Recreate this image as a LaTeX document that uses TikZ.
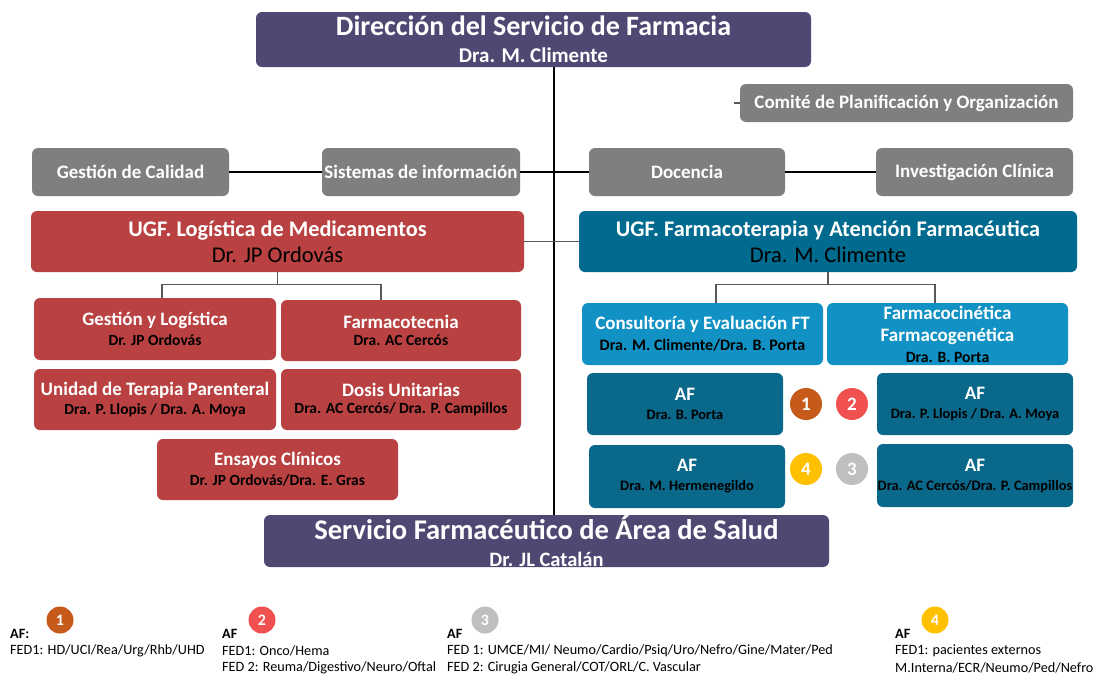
\documentclass[tikz,border=0pt]{standalone}
\usepackage{fontspec}
\setmainfont{Carlito}
\usetikzlibrary{calc}
\definecolor{purp}{RGB}{80,72,114}
\definecolor{grayb}{RGB}{127,127,127}
\definecolor{redb}{RGB}{185,65,65}
\definecolor{tealb}{RGB}{0,107,142}
\definecolor{lblue}{RGB}{18,146,196}
\definecolor{afb}{RGB}{10,104,138}
\definecolor{cone}{RGB}{197,90,26}
\definecolor{ctwo}{RGB}{240,80,80}
\definecolor{cthree}{RGB}{191,191,191}
\definecolor{cfour}{RGB}{255,192,0}
\definecolor{conn}{RGB}{89,89,89}
\newcommand\fsz[1]{\fontsize{#1}{#1}\selectfont}
\begin{document}
\begin{tikzpicture}[x=1pt,y=-1pt,
  box/.style={rounded corners=6pt, inner sep=0pt, align=center, text=white, font=\bfseries},
  purpbox/.style={box, fill=purp},
  graybox/.style={box, fill=grayb, font=\bfseries\fsz{19}},
  redbox/.style={box, fill=redb},
  tealbox/.style={box, fill=tealb},
  lbluebox/.style={box, fill=lblue},
  afbox/.style={box, fill=afb},
  num/.style={circle, inner sep=0pt, minimum size=32pt, text=white, font=\bfseries\fsz{19}},
  lnum/.style={circle, inner sep=0pt, minimum size=27pt, text=white, font=\bfseries\fsz{16}},
  spine/.style={draw=black, line width=2.8pt},
  thin/.style={draw=conn, line width=1.3pt},
  leg/.style={anchor=west, inner sep=0pt, font=\fsz{14.2}},
  legb/.style={anchor=west, inner sep=0pt, font=\bfseries\fsz{14.2}}
]
\useasboundingbox (0,0) rectangle (1101,678);
\fill[white] (0,0) rectangle (1101,678);

% top
\node[purpbox, minimum width=555pt, minimum height=55pt] (dir) at (533.5,39.5)
  {{\fsz{28}Dirección del Servicio de Farmacia}\\[11pt]{\fsz{21}Dra. M. Climente}};
\node[graybox, minimum width=333pt, minimum height=38pt] (com) at (906.5,103)
  {Comité de Planificación y Organización};
\node[graybox, minimum width=197pt, minimum height=48pt] (cal) at (130.5,172) {Gestión de Calidad};
\node[graybox, minimum width=198pt, minimum height=48pt] (sis) at (421,172) {Sistemas de información};
\node[graybox, minimum width=196pt, minimum height=48pt] (doc) at (687,172) {Docencia};
\node[graybox, minimum width=197pt, minimum height=48pt] (inv) at (974.5,172) {Investigación Clínica};

% UGF
\node[redbox, minimum width=493pt, minimum height=61pt] (ugfl) at (277.5,241.5)
  {{\fsz{22.3}UGF. Logística de Medicamentos}\\[6pt]{\fsz{22.5}\mdseries\color{black}Dr. JP Ordovás}};
\node[tealbox, minimum width=498pt, minimum height=61pt] (ugff) at (828,241.5)
  {{\fsz{22.3}UGF. Farmacoterapia y Atención Farmacéutica}\\[6pt]{\fsz{22.5}\mdseries\color{black}Dra. M. Climente}};

% left children
\node[redbox, minimum width=242pt, minimum height=62pt] (gl) at (155,329)
  {{\fsz{19}Gestión y Logística}\\[5pt]{\fsz{15.5}\color{black}Dr. JP Ordovás}};
\node[redbox, minimum width=240pt, minimum height=61pt] (ft) at (401,330.5)
  {{\fsz{19}Farmacotecnia}\\[5pt]{\fsz{15.5}\color{black}Dra. AC Cercós}};
\node[redbox, minimum width=242pt, minimum height=61pt] (utp) at (155,399.5)
  {{\fsz{19}Unidad de Terapia Parenteral}\\[5pt]{\fsz{15.5}\color{black}Dra. P. Llopis / Dra. A. Moya}};
\node[redbox, minimum width=240pt, minimum height=61pt] (du) at (401,399.5)
  {{\fsz{19}Dosis Unitarias}\\[5pt]{\fsz{15.5}\color{black}Dra. AC Cercós/ Dra. P. Campillos}};
\node[redbox, minimum width=241pt, minimum height=61pt] (ec) at (277.5,469.5)
  {{\fsz{19}Ensayos Clínicos}\\[5pt]{\fsz{15.5}\color{black}Dr. JP Ordovás/Dra. E. Gras}};

% right children
\node[lbluebox, minimum width=241pt, minimum height=62pt] (cons) at (702.5,334)
  {{\fsz{19}Consultoría y Evaluación FT}\\[6pt]{\fsz{16}\color{black}Dra. M. Climente/Dra. B. Porta}};
\node[lbluebox, minimum width=241pt, minimum height=62pt] (fcin) at (947.5,334)
  {{\fsz{19}Farmacocinética}\\[8pt]{\fsz{19}Farmacogenética}\\[6pt]{\fsz{15.7}\color{black}Dra. B. Porta}};
\node[afbox, minimum width=196pt, minimum height=62pt] (af1) at (685,404)
  {{\fsz{19}AF}\\[7pt]{\fsz{14.4}\color{black}Dra. B. Porta}};
\node[afbox, minimum width=196pt, minimum height=62pt] (af2) at (975,404)
  {{\fsz{19}AF}\\[7pt]{\fsz{14.4}\color{black}Dra. P. Llopis / Dra. A. Moya}};
\node[afbox, minimum width=196pt, minimum height=63pt] (af4) at (687,476.5)
  {{\fsz{19}AF}\\[7pt]{\fsz{14.4}\color{black}Dra. M. Hermenegildo}};
\node[afbox, minimum width=196pt, minimum height=63pt] (af3) at (975,475.5)
  {{\fsz{19}AF}\\[7pt]{\fsz{14.4}\color{black}Dra. AC Cercós/Dra. P. Campillos}};
\node[num, fill=cone] (n1) at (806,404) {1};
\node[num, fill=ctwo] (n2) at (852,404) {2};
\node[num, fill=cfour] (n4) at (806,469) {4};
\node[num, fill=cthree] (n3) at (852,469) {3};

% bottom
\node[purpbox, minimum width=565pt, minimum height=52pt] (sfas) at (546.5,541)
  {{\fsz{28.5}Servicio Farmacéutico de Área de Salud}\\[11pt]{\fsz{20.5}Dr. JL Catalán}};

% connectors
\coordinate (sp) at (554,0);
\coordinate (comtick) at (734,103);
\draw[spine] (dir.south -| sp) -- (sfas.north -| sp);
\draw[spine] (cal.east) -- (sis.west);
\draw[spine] (sis.east) -- (doc.west);
\draw[spine] (doc.east) -- (inv.west);
\draw[thin] (comtick) -- (com.west);
\draw[thin] (ugfl.east) -- (ugff.west);
\draw[thin] (ugfl.south) -- ++(0,12) coordinate (lb);
\draw[thin] ($(gl.north)+(7,0)$) |- (lb) -| ($(ft.north)+(-20,0)$);
\draw[thin] (ugff.south) -- ++(0,12) coordinate (rb);
\draw[thin] ($(cons.north)+(13.5,0)$) |- (rb) -| ($(fcin.north)+(-12.5,0)$);

% legend
\node[lnum, fill=cone] (l1) at (60,620) {1};
\node[legb] (l1a) at (10,634) {AF:};
\node[leg] (l1b) at (10,651) {FED1: HD/UCI/Rea/Urg/Rhb/UHD};

\node[lnum, fill=ctwo] (l2) at (262,620) {2};
\node[legb] (l2a) at (222,634) {AF};
\node[leg] (l2b) at (222,651) {FED1: Onco/Hema};
\node[leg] (l2c) at (222,668) {FED 2: Reuma/Digestivo/Neuro/Oftal};

\node[lnum, fill=cthree] (l3) at (485,620) {3};
\node[legb] (l3a) at (447,634) {AF};
\node[leg] (l3b) at (447,651) {FED 1: UMCE/MI/ Neumo/Cardio/Psiq/Uro/Nefro/Gine/Mater/Ped};
\node[leg] (l3c) at (447,668) {FED 2: Cirugia General/COT/ORL/C. Vascular};

\node[lnum, fill=cfour] (l4) at (935,620) {4};
\node[legb] (l4a) at (895,634) {AF};
\node[leg] (l4b) at (895,651) {FED1: pacientes externos};
\node[leg] (l4c) at (895,668) {M.Interna/ECR/Neumo/Ped/Nefro};
\end{tikzpicture}
\end{document}
